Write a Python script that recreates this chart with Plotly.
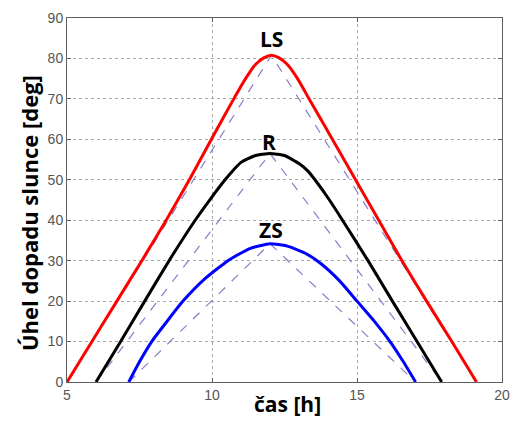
import plotly.graph_objects as go

# --- data ---
ls_x = [5.0, 5.86, 6.72, 7.58, 8.42, 9.22, 9.98, 10.75, 11.2, 11.5, 11.8, 12.05, 12.3, 12.6, 12.95, 13.35, 14.15, 14.95, 15.75, 16.55, 17.4, 18.27, 19.12]
ls_y = [0, 10, 20, 30, 40, 50, 60, 70, 75.5, 78.5, 80.2, 80.8, 80.2, 78.5, 75.0, 70, 60, 50, 40, 30, 20, 10, 0]

r_x = [6.0, 6.85, 7.68, 8.52, 9.42, 9.95, 10.45, 10.75, 11.0, 11.5, 12.0, 12.5, 13.0, 13.3, 13.55, 14.05, 14.5, 15.38, 16.22, 17.07, 17.92]
r_y = [0, 10, 20, 30, 40, 45.3, 50, 52.5, 54.3, 56.0, 56.5, 56.0, 54.0, 52.2, 50, 45, 40, 30, 20, 10, 0]

zs_x = [7.13, 7.5, 7.92, 8.45, 9.0, 9.75, 10.55, 11.3, 12.0, 12.6, 13.2, 13.75, 14.4, 15.0, 15.6, 16.14, 16.6, 17.02]
zs_y = [0, 5.0, 10, 15, 20, 25.5, 30, 33.0, 34.2, 33.6, 31.9, 29.3, 25.0, 20, 15, 10, 5, 0]

# dashed reference triangles: (start, peak, end)
tri_x = {"LS": [5.0, 12.05, 19.12], "R": [6.0, 12.0, 17.92], "ZS": [7.13, 12.0, 17.02]}
tri_y = {"LS": [0, 80.8, 0], "R": [0, 56.5, 0], "ZS": [0, 34.2, 0]}

labels = ["LS", "R", "ZS"]
label_x = [12.05, 11.95, 12.03]
label_y = [84.7, 59.4, 37.6]

x_ticks = [5, 10, 15, 20]
y_ticks = [0, 10, 20, 30, 40, 50, 60, 70, 80, 90]

fig = go.Figure()

dash_col = "#8a7cc8"
for k in labels:
    fig.add_trace(go.Scatter(x=tri_x[k], y=tri_y[k], mode="lines",
                             line=dict(color=dash_col, width=1.2, dash="dash"),
                             showlegend=False, hoverinfo="skip"))

for xs, ys, col in [(ls_x, ls_y, "#ff0000"), (r_x, r_y, "#000000"), (zs_x, zs_y, "#0000ff")]:
    fig.add_trace(go.Scatter(x=xs, y=ys, mode="lines",
                             line=dict(color=col, width=3, shape="spline", smoothing=0.5),
                             showlegend=False))

for t, lx, ly in zip(labels, label_x, label_y):
    fig.add_annotation(x=lx, y=ly, text=t, showarrow=False,
                       font=dict(family="Open Sans", size=21, color="black", weight="bold"))

fig.add_annotation(xref="paper", yref="paper", x=-0.089, y=0.465, text="Úhel dopadu slunce [deg]",
                   textangle=-90, showarrow=False, xanchor="center", yanchor="middle",
                   font=dict(family="Open Sans", size=22, color="black", weight="bold"))
fig.add_annotation(xref="paper", yref="paper", x=0.508, y=-0.061, text="čas [h]",
                   showarrow=False, xanchor="center", yanchor="middle",
                   font=dict(family="Open Sans", size=21, color="black", weight="bold"))

axis_common = dict(showgrid=True, gridcolor="#a8a8a8", griddash="dot", gridwidth=1,
                   showline=True, linecolor="#606060", linewidth=1, mirror="ticks",
                   ticks="inside", ticklen=4, tickcolor="#606060", zeroline=False,
                   tickfont=dict(family="Liberation Sans", size=14, color="#555555"))

fig.update_xaxes(range=[5, 20], tickvals=x_ticks, **axis_common)
fig.update_yaxes(range=[0, 90], tickvals=y_ticks, **axis_common)

fig.update_layout(width=519, height=423, margin=dict(l=67, r=9, t=18, b=41),
                  plot_bgcolor="white", paper_bgcolor="white")

fig.write_html("out.html")
